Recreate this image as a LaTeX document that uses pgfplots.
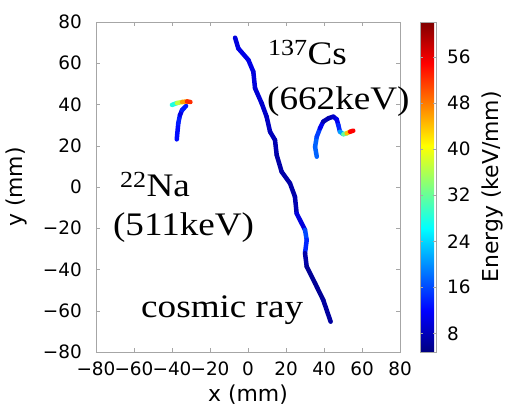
\documentclass[border=0pt]{standalone}
\usepackage{fontspec}
\setmainfont{DejaVu Sans}
\newfontfamily\annofont[FakeStretch=1.13]{Liberation Serif}
\usepackage{pgfplots}
\usepackage{pgfplotstable}
\pgfplotsset{compat=1.18}

% track points (mm) and deposited energy (keV/mm)
\pgfplotstableread{
x     y      e
-6.8  72.4   10
-5.1  67.2   10
0.2   61.6   11
2.8   55.9   10
3.7   47.9   10
7.2   40.6   9
9.8   34.1   9
11.6  26.8   8
14.2  22.8   8
15.1  15.5   7
17.7  7.4    7
22.1  1.8    7
24.7  -4.7   7
25.6  -12.8  8
30.0  -20.8  12
30.9  -25.7  20
30.0  -32.1  8
30.9  -38.6  6
35.3  -46.7  6
39.6  -54.8  6
43.5  -65.3  7
}\cosmic

\pgfplotstableread{
x      y     e
-37.5  23.1  10
-36.7  30.9  15
-35.8  34.9  12
-34.7  37.3  9
-32.6  39.3  18
}\nastem

\pgfplotstableread{
x      y     e
-40.0  39.8  24
-37.4  40.7  32
-34.7  41.2  42
-32.1  41.5  50
-30.3  41.2  55
}\nahook

\pgfplotstableread{
x     y     e
36.2  14.7  17
35.3  19.5  18
36.2  24.4  17
37.9  28.5  14
39.6  31.7  8
42.3  33.3  7
44.9  34.1  8
46.7  32.8  10
47.5  30.1  12
48.4  26.8  16
50.2  25.6  26
51.9  26.0  38
53.7  26.8  50
55.4  27.3  60
}\cs

\newcommand\tickfont{\fontsize{18.5}{20}\selectfont}
\newcommand\labfont{\fontsize{22}{24}\selectfont}
\newcommand\annofs{\annofont\fontsize{33}{36}\selectfont}

\begin{document}
\begin{tikzpicture}
\useasboundingbox (-96bp,-60bp) rectangle (422bp,352bp);
\begin{axis}[
  at={(0,0)}, anchor=south west,
  scale only axis, width=304bp, height=330bp,
  xmin=-80, xmax=80, ymin=-80, ymax=80,
  xtick={-80,-60,...,80}, ytick={-80,-60,...,80},
  xticklabels={−80,−60,−40,−20,0,20,40,60,80},
  yticklabels={−80,−60,−40,−20,0,20,40,60,80},
  tick align=inside, major tick length=4bp,
  tick style={gray!70},
  axis line style={gray!70},
  ticklabel style={font=\tickfont, inner sep=0pt},
  xticklabel style={anchor=north, yshift=-10bp},
  yticklabel style={anchor=east, xshift=-14bp},
  xlabel={x (mm)}, ylabel={y (mm)},
  xlabel style={font=\labfont, at={(axis description cs:0.5,-0.1515)}, anchor=base, inner sep=0pt},
  ylabel style={font=\labfont, at={(axis description cs:-0.2434,0.5)}, anchor=base, inner sep=0pt},
  clip=false,
  colormap/jet,
  point meta min=4.75, point meta max=62.1,
  colorbar,
  colorbar style={
    at={(parent axis.north east)}, anchor=north west, xshift=11.5bp,
    width=16bp,
    ytick={8,16,...,56},
    yticklabels={{\tickfont 8},{\tickfont 16},{\tickfont 24},{\tickfont 32},{\tickfont 40},{\tickfont 48},{\tickfont 56}},
    tick align=inside, major tick length=3bp,
    axis line style={gray!70}, tick style={gray!70},
    yticklabel style={font=\tickfont, anchor=west, inner sep=0pt, xshift=11bp},
    ylabel={Energy (keV/mm)},
    ylabel style={font=\labfont, at={(axis description cs:4.88,0.5)}, anchor=base, inner sep=0pt},
  },
  track/.style={mesh, point meta=explicit, line width=4.5bp, line cap=round},
]
\addplot[track] table[x=x, y=y, meta=e] {\cosmic};
\addplot[track] table[x=x, y=y, meta=e] {\nastem};
\addplot[track] table[x=x, y=y, meta=e] {\nahook};
\addplot[track] table[x=x, y=y, meta=e] {\cs};

\node[anchor=base west, inner sep=0pt, font=\annofs] at (axis cs:10.5,59.2) {\textsuperscript{137}Cs};
\node[anchor=base west, inner sep=0pt, font=\annofs] at (axis cs:10.0,37.8) {(662keV)};
\node[anchor=base west, inner sep=0pt, font=\annofs] at (axis cs:-67.4,-4.7) {\textsuperscript{22}Na};
\node[anchor=base west, inner sep=0pt, font=\annofs] at (axis cs:-71.1,-23.3) {(511keV)};
\node[anchor=base west, inner sep=0pt, font=\annofs] at (axis cs:-56.3,-63.5) {cosmic ray};
\end{axis}
\end{tikzpicture}
\end{document}
